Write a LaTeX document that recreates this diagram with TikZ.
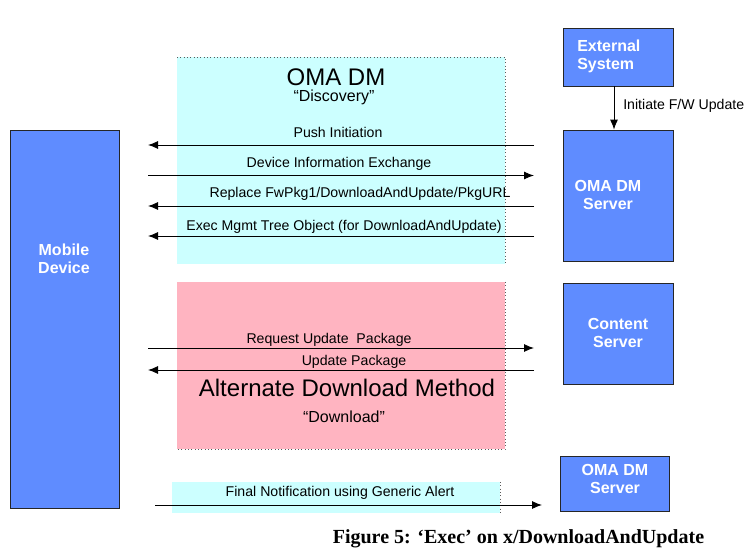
\documentclass[tikz,border=0pt]{standalone}
\usepackage{fontspec}
\setmainfont{Liberation Sans}
\newfontfamily\capfont{Liberation Serif}
\usetikzlibrary{arrows.meta}
\definecolor{boxblue}{RGB}{95,140,255}
\definecolor{discyan}{RGB}{204,255,255}
\definecolor{dlpink}{RGB}{255,180,193}
\definecolor{dotgray}{RGB}{90,90,90}
\begin{document}
\begin{tikzpicture}[x=0.75pt,y=-0.75pt,
  entity/.style={draw=black!85, fill=boxblue, line width=0.6pt, inner sep=0pt, rectangle},
  enttext/.style={text=white, font=\bfseries\fontsize{12}{13.5}\selectfont, inner sep=0pt},
  msg/.style={font=\fontsize{10.6}{12}\selectfont, inner sep=0pt},
  flow/.style={line width=0.7pt, -{Latex[length=7.5pt,width=6pt]}},
  bigtitle/.style={font=\fontsize{18}{20}\selectfont, inner sep=0pt},
  subtitle/.style={font=\fontsize{12}{14}\selectfont, inner sep=0pt},
  zoneedge/.style={dotgray, dotted, line width=0.5pt}]
\useasboundingbox (0,0) rectangle (752,556);

% background zones
\fill[discyan] (177,57) rectangle (505,264);
\draw[zoneedge] (177,57) -- (505,57) -- (505,264);
\fill[dlpink] (177,282) rectangle (505,449);
\draw[zoneedge] (505,282) -- (505,449) -- (177,449);
\fill[discyan] (172,482) rectangle (500,513);
\draw[zoneedge] (500,482) -- (500,513);

% entities
\node[entity, minimum width=81.75pt, minimum height=283.5pt] (mobile) at (64.5,319) {};
\node[enttext, align=center] (mobiletext) at (64,258.5) {Mobile\\Device};
\node[entity, minimum width=82.5pt, minimum height=43.5pt] (ext) at (618,57) {};
\node[enttext, align=left, anchor=west] (exttext) at (577,56.5) {External\\System};
\node[entity, minimum width=82.5pt, minimum height=98.25pt] (srv1) at (618,195.5) {};
\node[enttext, align=center] (srv1text) at (608,195) {OMA DM\\Server};
\node[entity, minimum width=82.5pt, minimum height=75.75pt] (content) at (618,333.5) {};
\node[enttext, align=center] (contenttext) at (618,333) {Content\\Server};
\node[entity, minimum width=81.75pt, minimum height=41.25pt] (srv2) at (614.5,483.5) {};
\node[enttext, align=center] (srv2text) at (615,478.5) {OMA DM\\Server};

% zone titles
\node[bigtitle] (omatitle) at (336,77) {OMA DM};
\node[subtitle] (disc) at (334,97) {“Discovery”};
\node[bigtitle] (alttitle) at (347,388) {Alternate Download Method};
\node[subtitle] (dl) at (344,417) {“Download”};

% arrow end points
\coordinate (pushS) at (534,145);  \coordinate (pushE) at (148,145);
\coordinate (dieS) at (148,175.5); \coordinate (dieE) at (534,175.5);
\coordinate (repS) at (534,206);   \coordinate (repE) at (148,206);
\coordinate (exeS) at (534,236);   \coordinate (exeE) at (148,236);
\coordinate (requS) at (148,348);  \coordinate (requE) at (534,348);
\coordinate (updS) at (534,370);   \coordinate (updE) at (148,370);
\coordinate (finS) at (155,505);   \coordinate (finE) at (542,505);

% messages
\draw[flow] (pushS) -- (pushE);
\node[msg] (pushl) at (338,132) {Push Initiation};
\draw[flow] (dieS) -- (dieE);
\node[msg] (diel) at (339,164) {Device Information Exchange};
\draw[flow] (repS) -- (repE);
\node[msg] (repl) at (360,194) {Replace FwPkg1/DownloadAndUpdate/PkgURL};
\draw[flow] (exeS) -- (exeE);
\node[msg] (exel) at (344,227) {Exec Mgmt Tree Object (for DownloadAndUpdate)};
\draw[flow] (requS) -- (requE);
\node[msg] (requl) at (329,340) {Request Update\ \ Package};
\draw[flow] (updS) -- (updE);
\node[msg] (updl) at (354,362) {Update Package};
\draw[flow] (finS) -- (finE);
\node[msg] (finl) at (340,493) {Final Notification using Generic Alert};

% external trigger
\draw[flow] ([xshift=-3pt]ext.south) -- ([xshift=-3pt]srv1.north);
\node[msg, anchor=west] (initl) at (623,106) {Initiate F/W Update};

% caption
\node[font=\capfont\bfseries\fontsize{15}{17}\selectfont, inner sep=0pt] (cap) at (518.5,539) {Figure 5: ‘Exec’ on x/DownloadAndUpdate};
\end{tikzpicture}
\end{document}
